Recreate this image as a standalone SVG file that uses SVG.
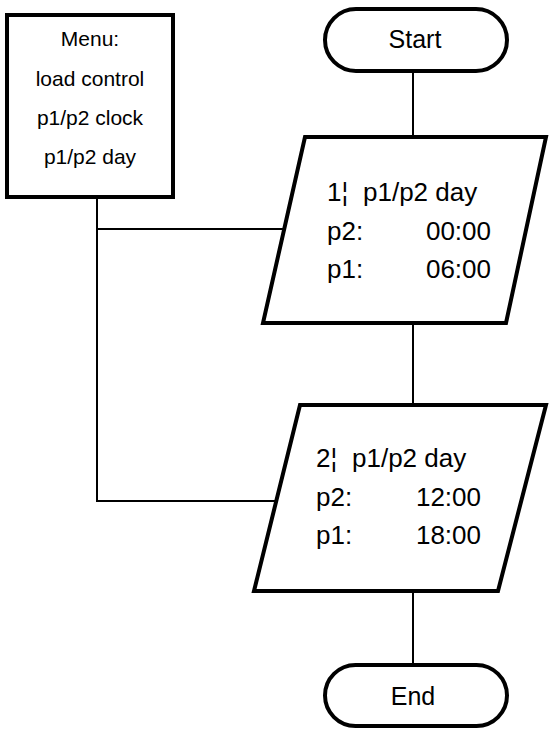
<svg xmlns="http://www.w3.org/2000/svg" width="549" height="731" viewBox="0 0 549 731">
<style>
.box{fill:#fff;stroke:#000;stroke-width:4;stroke-linejoin:miter}
.ln{fill:none;stroke:#000;stroke-width:2}
text{font-family:"Liberation Sans",Arial,sans-serif;fill:#000}
.m{font-size:21px;text-anchor:middle}
.t{font-size:25px;text-anchor:middle}
.p{font-size:26px}
.r{text-anchor:end}
</style>
<rect width="549" height="731" fill="#fff"/>
<g id="connectors">
<line class="ln" x1="413" y1="71" x2="413" y2="137"/>
<line class="ln" x1="413" y1="323" x2="413" y2="405"/>
<line class="ln" x1="413" y1="592" x2="413" y2="665"/>
<polyline class="ln" points="97,197 97,501 276,501"/>
<line class="ln" x1="97" y1="229" x2="284" y2="229"/>
</g>
<g id="menu">
<rect class="box" x="7" y="15" width="166" height="182"/>
<text class="m" x="90" y="46">Menu:</text>
<text class="m" x="90" y="86">load control</text>
<text class="m" x="90" y="125">p1/p2 clock</text>
<text class="m" x="90" y="164">p1/p2 day</text>
</g>
<g id="start">
<rect class="box" x="325" y="9" width="182" height="62" rx="31"/>
<text class="t" x="415" y="48">Start</text>
</g>
<g id="step1">
<polygon class="box" points="305,137 546,137 506,323 263,323"/>
<text class="p" x="327" y="201">1¦<tspan x="363">p1/p2 day</tspan></text>
<text class="p" x="327" y="240">p2:</text>
<text class="p r" x="491" y="240">00:00</text>
<text class="p" x="327" y="278">p1:</text>
<text class="p r" x="491" y="278">06:00</text>
</g>
<g id="step2">
<polygon class="box" points="300,405 546,405 498,591 254,591"/>
<text class="p" x="316" y="467">2¦<tspan x="352">p1/p2 day</tspan></text>
<text class="p" x="316" y="506">p2:</text>
<text class="p r" x="481" y="506">12:00</text>
<text class="p" x="316" y="544">p1:</text>
<text class="p r" x="481" y="544">18:00</text>
</g>
<g id="end">
<rect class="box" x="325" y="665" width="182" height="61" rx="30.5"/>
<text class="t" x="413" y="705">End</text>
</g>
</svg>
